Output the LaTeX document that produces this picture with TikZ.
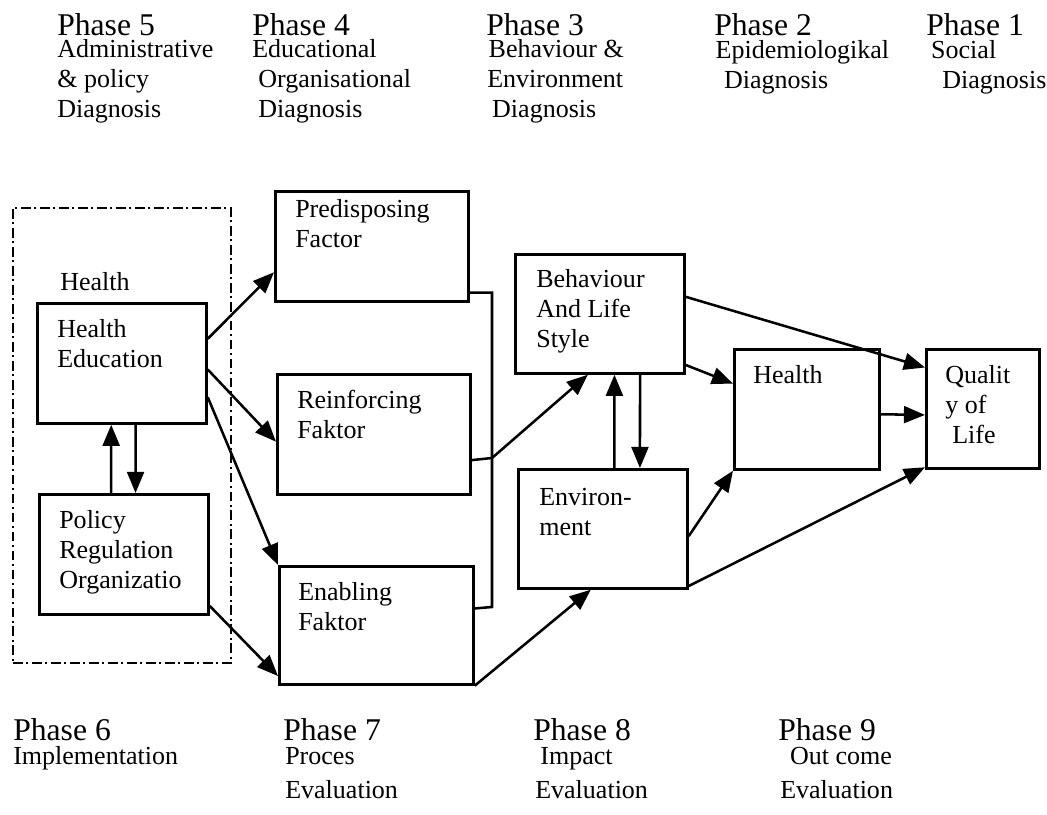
\documentclass[tikz,border=0pt]{standalone}
\usepackage{fontspec}
\setmainfont{Liberation Serif}
\usetikzlibrary{arrows.meta,calc}

\begin{document}
\begin{tikzpicture}[x=0.025cm,y=-0.025cm,
		Box/.style={draw, line width=1.9pt, inner sep=0pt, anchor=north west},
		Txt/.style={font=\fontsize{18.5}{21}\selectfont, inner sep=0pt, anchor=base west, align=left},
		Phase/.style={font=\fontsize{22.5}{26}\selectfont, inner sep=0pt, anchor=base west},
		Ln/.style={line width=1.8pt},
		Arr/.style={-{Triangle[length=15pt,width=12pt]}, line width=1.8pt}]
	\useasboundingbox (0,0) rectangle (1047,815);
	\begin{scope}
		\node[Phase] (ph5) at (57,35) {Phase 5};
		\node[Txt] (ph5-t) at (57,117) {Administrative\\\& policy\\Diagnosis};
		\node[Phase] (ph4) at (252,35) {Phase 4};
		\node[Txt] (ph4-t) at (252,117) {Educational\\\hspace*{4.3pt}Organisational\\\hspace*{4.3pt}Diagnosis};
		\node[Phase] (ph3) at (486,35) {Phase 3};
		\node[Txt] (ph3-t) at (487,117) {\hspace*{1pt}Behaviour \&\\Environment\\\hspace*{3.5pt}Diagnosis};
		\node[Phase] (ph2) at (714,35) {Phase 2};
		\node[Txt] (ph2-t) at (714,88) {\hspace*{1pt}Epidemiologikal\\\hspace*{7pt}Diagnosis};
		\node[Phase] (ph1) at (926,35) {Phase 1};
		\node[Txt] (ph1-t) at (926,88) {\hspace*{3.5pt}Social\\\hspace*{11.4pt}Diagnosis};
	\end{scope}
	\begin{scope}[Txt/.append style={font=\fontsize{18.5}{24}\selectfont}]
		\node[Phase] (ph6) at (13,740) {Phase 6};
		\node[Txt] (ph6-t) at (13,764) {Implementation};
		\node[Phase] (ph7) at (283,740) {Phase 7};
		\node[Txt] (ph7-t) at (285,798) {Proces\\Evaluation};
		\node[Phase] (ph8) at (533,740) {Phase 8};
		\node[Txt] (ph8-t) at (535,798) {\hspace*{3.6pt}Impact\\Evaluation};
		\node[Phase] (ph9) at (778,740) {Phase 9};
		\node[Txt] (ph9-t) at (780,798) {\hspace*{7pt}Out come\\Evaluation};
	\end{scope}
	\node[Box, draw, line width=1.2pt, dash pattern=on 7pt off 2.5pt on 1.5pt off 2.5pt,
		minimum width=5.45cm, minimum height=11.375cm] (grp) at (12,207) {};
	\node[Txt] (grp-t) at (60,290) {Health};
	\node[Box, minimum width=4.225cm, minimum height=3cm] (he) at (36,302) {};
	\node[Txt] (he-t) at (57,367) {Health\\Education};
	\node[Box, minimum width=4.225cm, minimum height=3cm] (pol) at (38,493) {};
	\node[Txt] (pol-t) at (59,588) {Policy\\Regulation\\Organizatio};
	\node[Box, minimum width=4.825cm, minimum height=2.75cm] (pred) at (274,190) {};
	\node[Txt] (pred-t) at (295,247) {Predisposing\\Factor};
	\node[Box, minimum width=4.825cm, minimum height=3cm] (reinf) at (276,373) {};
	\node[Txt] (reinf-t) at (297,438) {Reinforcing\\Faktor};
	\node[Box, minimum width=4.85cm, minimum height=2.95cm] (enab) at (278,565) {};
	\node[Txt] (enab-t) at (298,630) {Enabling\\Faktor};
	\node[Box, minimum width=4.225cm, minimum height=2.975cm] (behav) at (514,253) {};
	\node[Txt] (behav-t) at (536,347) {Behaviour\\And Life\\Style};
	\node[Box, minimum width=4.225cm, minimum height=2.975cm] (env) at (517,468) {};
	\node[Txt] (env-t) at (539,535) {Environ-\\ment};
	\node[Box, minimum width=3.625cm, minimum height=3cm] (hlth) at (733,348) {};
	\node[Txt] (hlth-t) at (753,383) {Health};
	\node[Box, minimum width=2.825cm, minimum height=2.975cm] (qol) at (925,348) {};
	\node[Txt] (qol-t) at (945,443) {Qualit\\y of\\\hspace*{5pt}Life};
	\coordinate (jn) at (492,458);
	\coordinate (jb) at (492,607);
	\draw[Ln] ($(pred.north east)!.91!(pred.south east)$) -| (jb) -- ($(enab.north east)!.36!(enab.south east)$);
	\draw[Ln] ($(reinf.north east)!.71!(reinf.south east)$) -- (jn);
	\draw[Arr] ($(he.north east)!.3!(he.south east)$) -- ($(pred.north west)!.73!(pred.south west)$);
	\draw[Arr] ($(he.north east)!.55!(he.south east)$) -- ($(reinf.north west)!.56!(reinf.south west)$);
	\draw[Arr] ($(he.north east)!.775!(he.south east)$) -- (enab.north west);
	\draw[Arr] ($(pol.north east)!.92!(pol.south east)$) -- ($(enab.north west)!.92!(enab.south west)$);
	\draw[Arr] ($(pol.north west)!.426!(pol.north east)$) -- ($(he.south west)!.438!(he.south east)$);
	\draw[Arr] ($(he.south west)!.58!(he.south east)$) -- ($(pol.north west)!.568!(pol.north east)$);
	\draw[Arr] (jn) -- ($(behav.south west)!.43!(behav.south east)$);
	\draw[Arr] (enab.south east) -- ($(env.south west)!.43!(env.south east)$);
	\draw[Arr] ($(env.north west)!.567!(env.north east)$) -- ($(behav.south west)!.585!(behav.south east)$);
	\draw[Arr] ($(behav.south west)!.734!(behav.south east)$) -- ($(env.north west)!.716!(env.north east)$);
	\draw[Arr] ($(behav.north east)!.92!(behav.south east)$) -- ($(hlth.north west)!.29!(hlth.south west)$);
	\draw[Arr] ($(behav.north east)!.36!(behav.south east)$) -- ($(qol.north west)!.16!(qol.south west)$);
	\draw[Arr] ($(hlth.north east)!.54!(hlth.south east)$) -- ($(qol.north west)!.55!(qol.south west)$);
	\draw[Arr] ($(env.north east)!.56!(env.south east)$) -- (hlth.south west);
	\draw[Arr] ($(env.north east)!.97!(env.south east)$) -- ($(qol.north west)!.98!(qol.south west)$);
\end{tikzpicture}
\end{document}
